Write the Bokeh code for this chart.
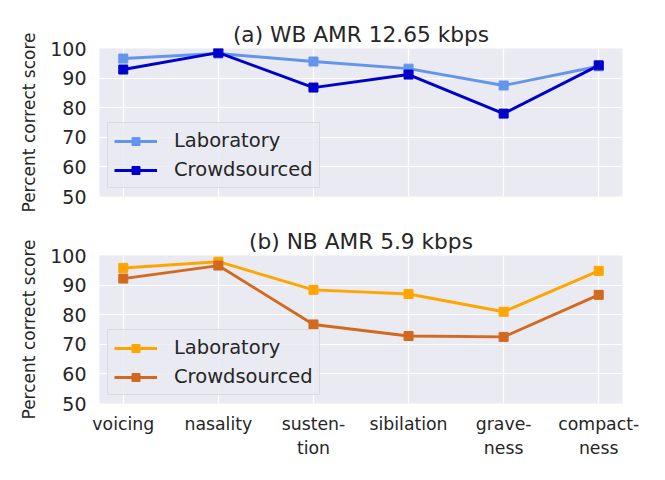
from bokeh.plotting import figure
from bokeh.models import Range1d, FixedTicker, Legend, LegendItem
from bokeh.layouts import column
from bokeh.embed import file_html
from bokeh.resources import INLINE

categories = ["voicing", "nasality", "susten-\ntion", "sibilation", "grave-\nness", "compact-\nness"]
y_ticks = [50, 60, 70, 80, 90, 100]

wb_lab = [96.6, 98.3, 95.6, 93.2, 87.5, 94.0]
wb_crowd = [92.9, 98.6, 86.8, 91.2, 78.0, 94.3]
nb_lab = [95.8, 97.9, 88.4, 87.0, 81.0, 94.8]
nb_crowd = [92.2, 96.6, 76.7, 72.8, 72.5, 86.7]

titles = ["(a) WB AMR 12.65 kbps", "(b) NB AMR 5.9 kbps"]
series_names = ["Laboratory", "Crowdsourced"]

FONT = "DejaVu Sans"
TXT = "#262626"
x_idx = list(range(len(categories)))


def make_fig(title, lab, crowd, colors, show_x, height, btop, bbot):
    p = figure(width=640, height=height, output_backend="svg", toolbar_location=None,
               x_range=Range1d(-0.25, len(categories) - 0.75), y_range=Range1d(50, 100),
               min_border_left=99, min_border_right=18, min_border_top=btop, min_border_bottom=bbot,
               title=title)
    p.title.align = "center"
    p.title.text_font = FONT
    p.title.text_font_size = "21.7px"
    p.title.text_font_style = "normal"
    p.title.text_color = TXT
    p.title.standoff = 4
    p.background_fill_color = "#EAEAF2"
    p.border_fill_color = "white"
    p.outline_line_color = None

    p.xaxis.ticker = FixedTicker(ticks=x_idx)
    p.xaxis.major_label_overrides = {i: c for i, c in enumerate(categories)}
    p.yaxis.ticker = FixedTicker(ticks=y_ticks)
    p.xgrid.ticker = FixedTicker(ticks=x_idx)
    p.ygrid.ticker = FixedTicker(ticks=y_ticks)
    p.grid.grid_line_color = "white"
    p.grid.grid_line_width = 1.2
    for ax in [p.xaxis[0], p.yaxis[0]]:
        ax.axis_line_color = None
        ax.major_tick_line_color = None
        ax.minor_tick_line_color = None
        ax.major_tick_out = 0
        ax.major_tick_in = 0
        ax.major_label_text_font = FONT
        ax.major_label_text_color = TXT
    p.yaxis.major_label_text_font_size = "19px"
    p.yaxis.major_label_standoff = 13
    p.xaxis.major_label_text_font_size = "17.3px"
    p.xaxis.major_label_standoff = 10
    p.yaxis.axis_label = "Percent correct score"
    p.yaxis.axis_label_text_font = FONT
    p.yaxis.axis_label_text_font_size = "17px"
    p.yaxis.axis_label_text_font_style = "normal"
    p.yaxis.axis_label_text_color = TXT
    p.yaxis.axis_label_standoff = 8
    if not show_x:
        p.xaxis.visible = False

    items = []
    for vals, col, name in zip([lab, crowd], colors, series_names):
        r1 = p.line(x_idx, vals, line_color=col, line_width=2.9)
        r2 = p.scatter(x_idx, vals, marker="square", size=9, fill_color=col, line_color=col)
        items.append(LegendItem(label=name, renderers=[r1, r2]))
    leg = Legend(items=items, location="bottom_left")
    leg.margin = 8
    leg.padding = 6
    leg.spacing = 6
    leg.glyph_width = 43
    leg.glyph_height = 20
    leg.label_height = 20
    leg.label_standoff = 17
    leg.label_text_font = FONT
    leg.label_text_font_size = "19.5px"
    leg.label_text_color = TXT
    leg.background_fill_color = "#EAEAF2"
    leg.background_fill_alpha = 0.8
    leg.border_line_color = "#CCCCCC"
    leg.border_line_width = 1
    p.add_layout(leg, "center")
    return p


p1 = make_fig(titles[0], wb_lab, wb_crowd, ["#6495ED", "#0000CD"], False, 216, 48, 20)
p2 = make_fig(titles[1], nb_lab, nb_crowd, ["#FFA500", "#D2691E"], True, 244, 39, 56)

layout = column(p1, p2)
open("out.html", "w").write(file_html(layout, INLINE))
